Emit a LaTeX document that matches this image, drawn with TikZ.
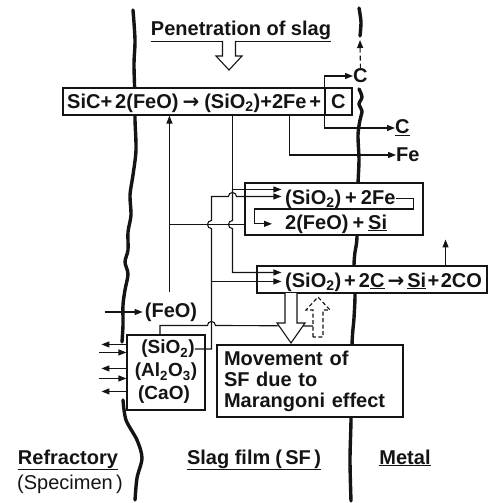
\documentclass[tikz,border=0pt]{standalone}
\usepackage{fontspec}
\setmainfont{Liberation Sans}
\newfontfamily\symfont{DejaVu Sans}
\usepackage{tikz}
\usetikzlibrary{arrows.meta, positioning, calc}

\definecolor{ink}{HTML}{141414}

\newcommand\rfont{\fontsize{20}{22}\selectfont\bfseries}
\newcommand\lfont{\fontsize{20}{21}\selectfont\bfseries}
\newcommand\ofont{\fontsize{19}{21}\selectfont\bfseries}
\newcommand\rgap{\hspace{3pt}}
\newcommand\rarr{{\symfont\bfseries →}}

\tikzset{
  rbox/.style   ={draw=ink, line width=1.1pt, fill=white, inner sep=0pt},
  rtext/.style  ={font=\rfont, text=ink, inner sep=0pt},
  ltext/.style  ={font=\lfont, text=ink, inner sep=0pt},
  otext/.style  ={font=\ofont, text=ink, inner sep=0pt},
  flow/.style   ={-{Triangle[length=8pt,width=6pt]}, line width=1.1pt, draw=ink},
  flowd/.style  ={flow, dash pattern=on 5pt off 3pt},
  link/.style   ={line width=1.1pt, draw=ink},
  border/.style ={line width=3.4pt, draw=ink, line cap=round, line join=round},
  hollow/.style ={line width=1.1pt, draw=ink, fill=white},
  hollowd/.style={hollow, dash pattern=on 4pt off 2.5pt}
}

\begin{document}
\begin{tikzpicture}[x=1pt, y=-1pt]
  \useasboundingbox (0,0) rectangle (492,503);

  % phase boundaries
  \draw[border] plot[smooth] coordinates {(133,10) (135,40) (134,65) (135,100)
      (135,120) (136,150) (133,175) (130,195) (131,215) (128,232) (128,250)
      (125,262) (128,274) (125,290) (123,305) (123,325) (122,342)};
  \draw[border] plot[smooth] coordinates {(123,400) (126,420) (137,440)
      (142,458) (137,478) (135,500)};
  \draw[border] plot[smooth] coordinates {(359,8) (361,22) (360,36)};
  \draw[border] plot[smooth] coordinates {(359,89) (362,97) (359,104) (362,111)
      (360,120) (358,135) (359,160) (358,185) (357,237) (355,252) (354,266)
      (355,295) (354,318) (352,345) (351,420) (350,460) (351,501)};

  % boxes
  \node[rbox, minimum width=289pt, minimum height=27pt] (react)  at (207.5,101.5) {};
  \node[rbox, minimum width=27pt,  minimum height=27pt] (cbox)   at (338.5,101.5) {};
  \node[rbox, minimum width=178pt, minimum height=52pt] (slag)   at (334,209) {};
  \node[rbox, minimum width=230pt, minimum height=27pt] (reduce) at (372,279.5) {};
  \node[rbox, minimum width=78pt,  minimum height=75pt] (oxide)  at (166,372.5) {};
  \node[rbox, ltext, align=left, text width=172pt, minimum height=72pt,
        inner xsep=7pt] (maran) at (310,381)
        {Movement of\\SF due to\\Marangoni effect};

  % texts
  \node[ltext, anchor=base] (pen) at (241,36) {\underline{Penetration of slag}};
  \node[rtext, anchor=base west] (rtxt) at (67,108)
        {SiC+\rgap2(FeO)\hspace{4pt}\rarr\hspace{5pt}(SiO\textsubscript{2})+2Fe\rgap+\hspace{10pt}C};
  \node[rtext, anchor=west] (cup) at (353,76) {C};
  \node[rtext, anchor=west] (cdn) at (395,128) {\underline{C}};
  \node[rtext, anchor=west] (fe)  at (396,155) {Fe};
  \node[rtext, anchor=base west] (row1) at (285,204)
        {(SiO\textsubscript{2})\hspace{4pt}+\hspace{4pt}2Fe};
  \node[rtext, anchor=base west] (row2) at (285,229)
        {2(FeO)\hspace{4pt}+\hspace{4pt}\underline{Si}};
  \node[rtext, anchor=base west] (row3) at (285,287)
        {(SiO\textsubscript{2})\rgap+\rgap2\underline{C}\rgap\rarr\rgap\underline{Si}\hspace{1.5pt}+\hspace{1.5pt}2CO};
  \node[ltext] (feo)  at (171,312) {(FeO)};
  \node[otext] (osio) at (168,349) {(SiO\textsubscript{2})};
  \node[otext] (oal)  at (166,372) {(Al\textsubscript{2}O\textsubscript{3})};
  \node[otext] (ocao) at (164,395) {(CaO)};
  \node[ltext, anchor=base] (refr)  at (68,464)  {\underline{Refractory}};
  \node[ltext, anchor=base] (spec)  at (70,489)  {\mdseries(Specimen\,)};
  \node[ltext, anchor=base] (film)  at (254,464) {\underline{Slag film\hspace{5pt}(\,SF\,)}};
  \node[ltext, anchor=base] (metal) at (405,464) {\underline{Metal}};

  % attachment points
  \path (react.south west) ++(107,0) coordinate (feoS) ++(63,0) coordinate (sioS)
        ++(57,0) coordinate (feS);
  \path (slag.north west) ++(37,7) coordinate (in1a) ++(0,7) coordinate (in1b);
  \path (reduce.north west) ++(25,7) coordinate (in3a) ++(0,9) coordinate (in3b);
  \path (slag.south west) ++(0,-11) coordinate (ret);
  \path (slag.east) ++(-10,0) coordinate (bkR);
  \path (slag.west) ++(10,0) coordinate (bkL);
  \path (oxide.north west) ++(85,0) coordinate (colS);
  \path (oxide.north) ++(-6,0) coordinate (oxT);
  \path (reduce.north east) ++(-42,0) coordinate (coS);
  \coordinate (escape) at (360,40);
  \coordinate (backT) at (313,326);

  % products of SiC oxidation
  \draw[flow] (cbox.north west) |- (cup.west);
  \draw[flow] (cbox.south west) |- (cdn.west);
  \draw[flow] (feS) |- (fe.west);
  \draw[flowd] (cup.north) -- (escape);

  % FeO supply
  \draw[flow, shorten >=2pt] ($(feo.west)+(-40,0)$) -- (feo.west);
  \draw[flow, shorten <=10pt] (feo.north -| feoS) -- (feoS);
  \draw[link] (ret) -- (ret -| feoS);

  % SiO2 in the slag film
  \draw[flow] (sioS) |- (in1a);
  \draw[flow] (sioS |- in1a) -- ($(sioS |- ret)+(0,-4)$) arc(270:90:4) |- (in3a);
  \draw[flow] (osio.east) -- (osio.east -| colS) -- ($(colS |- ret)+(0,4)$)
        arc(90:270:4) -- (colS |- in1b) -- ($(sioS |- in1b)+(-4,0)$)
        arc(180:360:4) -- (in1b);
  \draw[flow] (colS |- in3b) -- (in3b);
  \draw[flow] (row1.east) -| (bkR) -- (bkL) |- ($(row2.west)+(-13,0)$);
  \draw[flow] (coS) -- ++(0,-26);

  % oxides from the refractory
  \draw[link] (oxT) -- ++(0,-9) -- ($(colS |- oxT)+(-4,-9)$) arc(180:360:4) -- (backT);
  \foreach \dy in {10,34,57}
    \draw[flow] ($(oxide.north west)+(0,\dy)$) -- ++(-25,0);
  \foreach \dy in {18,44}
    \draw[flow] ($(oxide.north west)+(-27,\dy)$) -- ++(27,0);

  % hollow arrows
  \draw[hollow] (222.5,41) -- (222.5,56) -- (216,56) -- (229,70) -- (242,56)
        -- (235.5,56) -- (235.5,41);
  \draw[hollow] (285,293) -- (285,323) -- (277,323) -- (291,343) -- (305,323)
        -- (297,323) -- (297,293);
  \draw[hollowd] (313,337) -- (313,310) -- (306,310) -- (318,297) -- (330,310)
        -- (323,310) -- (323,337) -- cycle;

\end{tikzpicture}
\end{document}
